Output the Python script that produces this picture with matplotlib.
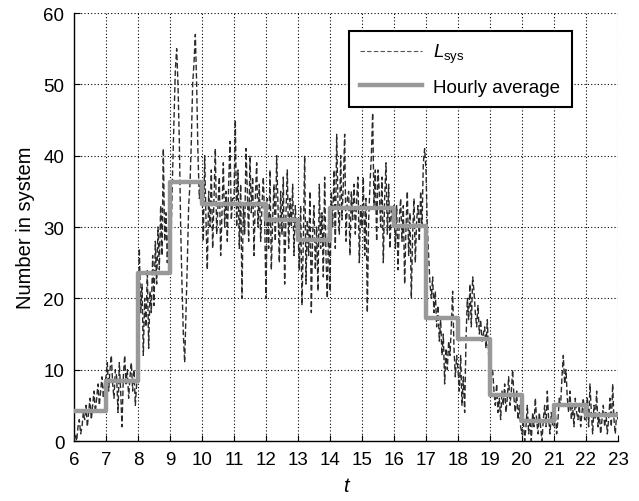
import numpy as np
import matplotlib
matplotlib.use("Agg")
import matplotlib.pyplot as plt

plt.rcParams['font.family'] = ['Liberation Sans', 'DejaVu Sans']
plt.rcParams['mathtext.fontset'] = 'custom'
plt.rcParams['mathtext.rm'] = 'Liberation Sans'
plt.rcParams['mathtext.it'] = 'Liberation Sans:italic'

# Hourly averages (one per hour 6..22)
hours = list(range(6, 24))
hourly_avg = [4.2, 8.4, 23.5, 36.3, 33.2, 33.2, 31.0, 28.2, 32.7, 32.7,
              30.2, 17.2, 14.3, 6.5, 2.8, 5.1, 3.6]

L_h06 = [0, 1, 0, 2, 3, 1, 2, 4, 3, 5, 2, 4, 6, 3, 5, 7, 4, 6, 8, 5, 7, 9, 6, 8]
L_h07 = [9, 11, 7, 10, 12, 8, 6, 10, 9, 4, 11, 7, 2, 9, 12, 8, 10, 6, 9, 11, 7, 10, 5, 8]
L_h08 = [14, 27, 18, 22, 12, 20, 16, 24, 13, 21, 18, 26, 19, 28, 22, 30, 24, 33, 26, 41, 28, 32, 25, 30]
L_h09 = [24, 30, 38, 45, 52, 55, 50, 42, 30, 22, 15, 11, 18, 25, 33, 36, 42, 50, 53, 57, 50, 40, 34, 36]
L_h10 = [36, 28, 40, 31, 24, 35, 30, 38, 27, 34, 41, 29, 33, 37, 26, 32, 39, 30, 35, 28, 36, 42, 31, 34]
L_h11 = [34, 45, 30, 38, 27, 36, 20, 33, 29, 41, 35, 28, 40, 32, 37, 26, 34, 39, 30, 36, 28, 33, 37, 31]
L_h12 = [20, 34, 27, 38, 24, 31, 36, 28, 40, 33, 25, 35, 29, 37, 22, 32, 38, 27, 34, 30, 36, 26, 33, 29]
L_h13 = [30, 24, 33, 19, 28, 40, 22, 31, 26, 35, 18, 29, 33, 24, 30, 21, 36, 27, 32, 23, 37, 26, 20, 31]
L_h14 = [21, 35, 30, 38, 27, 43, 33, 29, 40, 31, 36, 43, 28, 34, 35, 26, 35, 31, 36, 29, 34, 37, 25, 33]
L_h15 = [30, 37, 26, 34, 18, 31, 36, 40, 46, 33, 38, 28, 38, 35, 30, 37, 25, 34, 39, 29, 36, 27, 33, 31]
L_h16 = [33, 27, 33, 24, 31, 34, 28, 33, 22, 30, 35, 26, 32, 20, 29, 34, 25, 31, 33, 28, 35, 30, 39, 41]
L_h17 = [38, 30, 26, 22, 20, 23, 18, 21, 16, 19, 14, 17, 12, 15, 8, 13, 10, 14, 12, 16, 21, 13, 9, 12]
L_h18 = [10, 7, 12, 5, 9, 4, 14, 20, 17, 22, 16, 23, 21, 18, 16, 19, 15, 17, 14, 15, 16, 13, 17, 12]
L_h19 = [12, 9, 10, 7, 5, 8, 4, 6, 3, 7, 5, 8, 4, 6, 9, 5, 7, 10, 6, 4, 7, 3, 5, 2]
L_h20 = [1, 3, 0, 2, 5, 1, 3, 0, 4, 2, 6, 3, 1, 4, 2, 0, 3, 5, 2, 7, 3, 1, 4, 2]
L_h21 = [2, 4, 1, 3, 6, 5, 9, 12, 8, 10, 6, 4, 7, 3, 5, 2, 6, 4, 3, 5, 2, 4, 6, 3]
L_h22 = [3, 6, 2, 8, 4, 1, 5, 3, 7, 2, 4, 1, 3, 5, 2, 4, 1, 3, 6, 2, 8, 3, 1, 4]
L_end = [3]

L_sys = (L_h06 + L_h07 + L_h08 + L_h09 + L_h10 + L_h11 + L_h12 + L_h13 + L_h14
         + L_h15 + L_h16 + L_h17 + L_h18 + L_h19 + L_h20 + L_h21 + L_h22 + L_end)
samples_per_hour = 24
t = 6 + np.arange(len(L_sys)) / samples_per_hour

xticks = list(range(6, 24))
yticks = [0, 10, 20, 30, 40, 50, 60]

fig = plt.figure(figsize=(6.39, 5.02), dpi=100)
ax = fig.add_axes([0.1158, 0.1195, 0.8513, 0.8526])

ax.plot(t, L_sys, color='#2a2a2a', lw=1.0, linestyle=(0, (4, 2)), label=r'$L_{\mathrm{sys}}$', zorder=3)
avg_vals = hourly_avg + [hourly_avg[-1]]
ax.step(hours, avg_vals, where='post', color='#999999', lw=3.2, label='Hourly average', zorder=4)

ax.set_xlim(6, 23)
ax.set_ylim(0, 60)
ax.set_xticks(xticks)
ax.set_yticks(yticks)
ax.tick_params(direction='in', labelsize=13.5, length=4, width=0.8, top=False, right=False, pad=7)
ax.grid(True, linestyle=(0, (1, 2)), color='black', lw=0.8)
ax.spines['top'].set_visible(False)
ax.spines['right'].set_visible(False)
ax.spines['left'].set_linewidth(1.0)
ax.spines['bottom'].set_linewidth(1.0)

ax.set_xlabel('t', fontsize=14.5, fontstyle='italic', labelpad=6)
ax.set_ylabel('Number in system', fontsize=14.5, labelpad=6)

leg = ax.legend(loc='upper right', bbox_to_anchor=(0.915, 0.958), borderaxespad=0,
                fontsize=13.5, handlelength=3.3, frameon=True, fancybox=False,
                edgecolor='black', framealpha=1, borderpad=0.6, labelspacing=0.7,
                handletextpad=0.6)
leg.get_frame().set_linewidth(1.5)
leg.legend_handles[0].set_linewidth(0.8)
leg.legend_handles[0].set_color('#555555')

fig.savefig('out.png', dpi=100)
